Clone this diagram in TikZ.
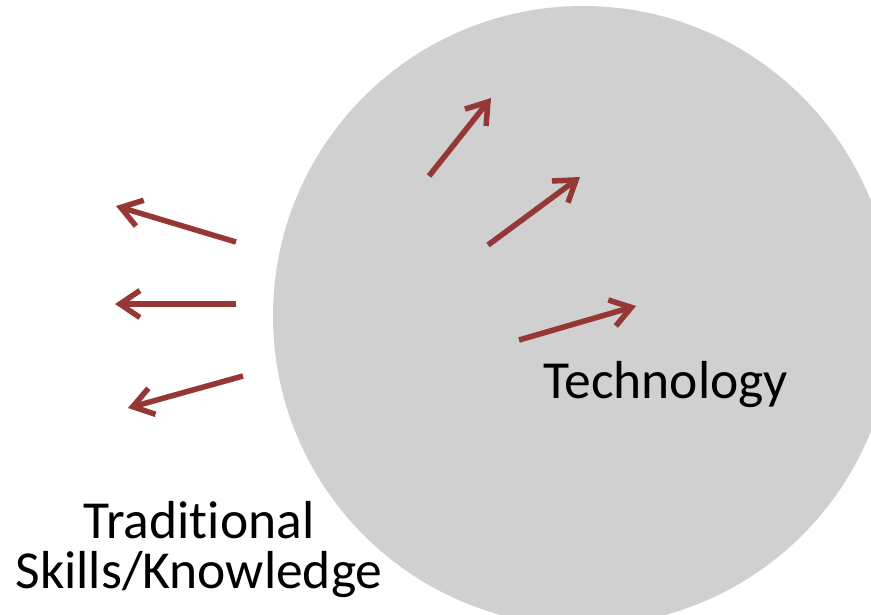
\documentclass[tikz,border=0pt]{standalone}
\usepackage{fontspec}
\setmainfont{Carlito}[Ligatures={NoCommon}]
\usepackage{tikz}
\usetikzlibrary{arrows.meta}
\definecolor{arrowred}{HTML}{953735}
\definecolor{discgray}{HTML}{D0D0D0}

\begin{document}
\begin{tikzpicture}
  [x=1pt,y=-1pt,
   push/.style={draw=arrowred,line width=5.5pt,-{Straight Barb[length=20pt,width=27pt]},
     preaction={draw=black,opacity=.12,transform canvas={shift={(1.5pt,-2.5pt)}}}},
   label/.style={font=\fontsize{53.5}{50}\selectfont,align=center,inner sep=0pt}]
  \useasboundingbox (0,0) rectangle (871,614);
  \clip (0,0) rectangle (871,614);

  \fill[discgray] (583,316) circle (310);

  \coordinate (t1s) at (236,242);  \coordinate (t1e) at (116,206);
  \coordinate (t2s) at (236,304);  \coordinate (t2e) at (115,304);
  \coordinate (t3s) at (243,376);  \coordinate (t3e) at (128,408);
  \coordinate (n1s) at (429,176);  \coordinate (n1e) at (491,98);
  \coordinate (n2s) at (488,245);  \coordinate (n2e) at (580,177);
  \coordinate (n3s) at (519,340);  \coordinate (n3e) at (636,306);

  \foreach \from/\to in {t1s/t1e,t2s/t2e,t3s/t3e,n1s/n1e,n2s/n2e,n3s/n3e}
    \draw[push] (\from) -- (\to);

  \node[label,anchor=base west] (tech) at (543,398) {Technology};
  \node[label,anchor=base] (trad) at (199,588) {Traditional\\Skills/Knowledge};

\end{tikzpicture}
\end{document}
